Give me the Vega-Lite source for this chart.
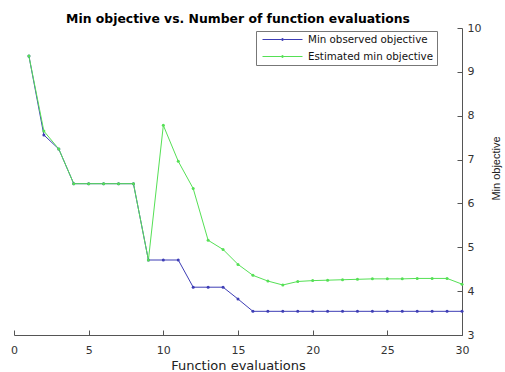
{
  "$schema": "https://vega.github.io/schema/vega-lite/v6.json",
  "width": 448,
  "height": 307,
  "autosize": {"type": "none"},
  "padding": {"left": 14, "top": 28, "right": 43, "bottom": 37},
  "background": "white",
  "title": {
    "text": "Min objective vs. Number of function evaluations",
    "font": "DejaVu Sans",
    "fontSize": 12.4,
    "fontWeight": "bold",
    "color": "#000000",
    "anchor": "middle",
    "baseline": "alphabetic",
    "offset": 6,
    "dy": 19
  },
  "config": {
    "view": {"stroke": null},
    "axis": {
      "labelFont": "DejaVu Sans",
      "titleFont": "DejaVu Sans",
      "labelFontSize": 11,
      "titleFontSize": 13,
      "titleFontWeight": "normal",
      "labelColor": "#333333",
      "titleColor": "#222222",
      "domainColor": "#555555",
      "tickColor": "#555555",
      "grid": false
    }
  },
  "data": {
    "values": [
      {"x": 1, "s": "Min observed objective", "y": 9.36},
      {"x": 2, "s": "Min observed objective", "y": 7.56},
      {"x": 3, "s": "Min observed objective", "y": 7.24},
      {"x": 4, "s": "Min observed objective", "y": 6.45},
      {"x": 5, "s": "Min observed objective", "y": 6.45},
      {"x": 6, "s": "Min observed objective", "y": 6.45},
      {"x": 7, "s": "Min observed objective", "y": 6.45},
      {"x": 8, "s": "Min observed objective", "y": 6.45},
      {"x": 9, "s": "Min observed objective", "y": 4.71},
      {"x": 10, "s": "Min observed objective", "y": 4.71},
      {"x": 11, "s": "Min observed objective", "y": 4.71},
      {"x": 12, "s": "Min observed objective", "y": 4.09},
      {"x": 13, "s": "Min observed objective", "y": 4.09},
      {"x": 14, "s": "Min observed objective", "y": 4.09},
      {"x": 15, "s": "Min observed objective", "y": 3.82},
      {"x": 16, "s": "Min observed objective", "y": 3.54},
      {"x": 17, "s": "Min observed objective", "y": 3.54},
      {"x": 18, "s": "Min observed objective", "y": 3.54},
      {"x": 19, "s": "Min observed objective", "y": 3.54},
      {"x": 20, "s": "Min observed objective", "y": 3.54},
      {"x": 21, "s": "Min observed objective", "y": 3.54},
      {"x": 22, "s": "Min observed objective", "y": 3.54},
      {"x": 23, "s": "Min observed objective", "y": 3.54},
      {"x": 24, "s": "Min observed objective", "y": 3.54},
      {"x": 25, "s": "Min observed objective", "y": 3.54},
      {"x": 26, "s": "Min observed objective", "y": 3.54},
      {"x": 27, "s": "Min observed objective", "y": 3.54},
      {"x": 28, "s": "Min observed objective", "y": 3.54},
      {"x": 29, "s": "Min observed objective", "y": 3.54},
      {"x": 30, "s": "Min observed objective", "y": 3.54},
      {"x": 1, "s": "Estimated min objective", "y": 9.36},
      {"x": 2, "s": "Estimated min objective", "y": 7.65},
      {"x": 3, "s": "Estimated min objective", "y": 7.24},
      {"x": 4, "s": "Estimated min objective", "y": 6.45},
      {"x": 5, "s": "Estimated min objective", "y": 6.45},
      {"x": 6, "s": "Estimated min objective", "y": 6.45},
      {"x": 7, "s": "Estimated min objective", "y": 6.45},
      {"x": 8, "s": "Estimated min objective", "y": 6.45},
      {"x": 9, "s": "Estimated min objective", "y": 4.71},
      {"x": 10, "s": "Estimated min objective", "y": 7.78},
      {"x": 11, "s": "Estimated min objective", "y": 6.96},
      {"x": 12, "s": "Estimated min objective", "y": 6.34},
      {"x": 13, "s": "Estimated min objective", "y": 5.16},
      {"x": 14, "s": "Estimated min objective", "y": 4.95},
      {"x": 15, "s": "Estimated min objective", "y": 4.61},
      {"x": 16, "s": "Estimated min objective", "y": 4.36},
      {"x": 17, "s": "Estimated min objective", "y": 4.23},
      {"x": 18, "s": "Estimated min objective", "y": 4.14},
      {"x": 19, "s": "Estimated min objective", "y": 4.22},
      {"x": 20, "s": "Estimated min objective", "y": 4.24},
      {"x": 21, "s": "Estimated min objective", "y": 4.25},
      {"x": 22, "s": "Estimated min objective", "y": 4.26},
      {"x": 23, "s": "Estimated min objective", "y": 4.27},
      {"x": 24, "s": "Estimated min objective", "y": 4.28},
      {"x": 25, "s": "Estimated min objective", "y": 4.28},
      {"x": 26, "s": "Estimated min objective", "y": 4.28},
      {"x": 27, "s": "Estimated min objective", "y": 4.29},
      {"x": 28, "s": "Estimated min objective", "y": 4.29},
      {"x": 29, "s": "Estimated min objective", "y": 4.29},
      {"x": 30, "s": "Estimated min objective", "y": 4.16}
    ]
  },
  "mark": {"type": "line", "strokeWidth": 1, "point": {"filled": true, "size": 9}},
  "encoding": {
    "x": {
      "field": "x",
      "type": "quantitative",
      "scale": {"domain": [0, 30], "nice": false, "zero": false},
      "axis": {
        "title": "Function evaluations",
        "values": [0, 5, 10, 15, 20, 25, 30],
        "tickSize": -5,
        "labelPadding": 14,
        "titlePadding": 4,
        "labelFlush": false
      }
    },
    "y": {
      "field": "y",
      "type": "quantitative",
      "scale": {"domain": [3, 10], "nice": false, "zero": false},
      "axis": {
        "orient": "right",
        "title": "Min objective",
        "titleAngle": 270,
        "titleFont": "Liberation Sans",
        "titleFontSize": 11,
        "titleY": 140,
        "values": [3, 4, 5, 6, 7, 8, 9, 10],
        "tickSize": -5,
        "labelPadding": 10,
        "titlePadding": 21,
        "labelFlush": false
      }
    },
    "color": {
      "field": "s",
      "type": "nominal",
      "sort": ["Min observed objective", "Estimated min objective"],
      "scale": {
        "domain": ["Min observed objective", "Estimated min objective"],
        "range": ["#3d3db5", "#55e055"]
      },
      "legend": {
        "title": null,
        "orient": "none",
        "legendX": 242,
        "legendY": 3,
        "strokeColor": "#777777",
        "fillColor": "white",
        "padding": 3,
        "labelFont": "DejaVu Sans",
        "labelFontSize": 10.3,
        "labelColor": "#111111",
        "symbolType": "M-0.4,0L3.4,0M3.8,0L7.6,0M3.4,0A0.2,0.2 0 1,1 3.8,0A0.2,0.2 0 1,1 3.4,0",
        "symbolSize": 100,
        "symbolStrokeWidth": 1,
        "rowPadding": 6,
        "labelOffset": 38
      }
    }
  }
}
